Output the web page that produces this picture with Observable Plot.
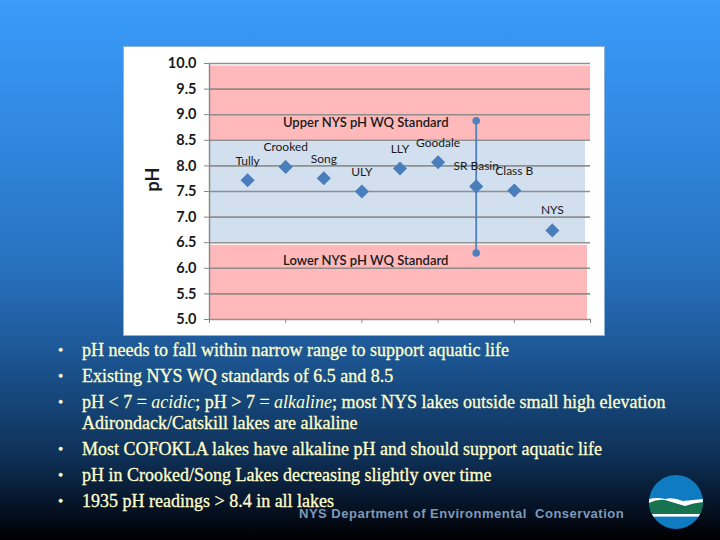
<!DOCTYPE html>
<html><head><meta charset="utf-8">
<script src="https://cdn.jsdelivr.net/npm/d3@7"></script>
<script src="https://cdn.jsdelivr.net/npm/@observablehq/plot@0.6"></script>
<style>
html,body{margin:0;padding:0;width:720px;height:540px;overflow:hidden}
body{position:relative;background:linear-gradient(180deg,#3a9bfa 0%,#3188e0 25%,#2870bd 50%,#1f5b9c 63%,#174a80 72%,#0e2f55 85%,#050f1f 95%,#000 100%)}
#panel{position:absolute;left:124px;top:47px;width:480px;height:288px;background:#fff;box-shadow:0 0 0 1px #8db4d8}
#panel svg{display:block;background:transparent}
.b{position:absolute;left:0;font:400 18px "Liberation Serif",serif;color:#ffffcc;white-space:pre;line-height:20px;-webkit-text-stroke:.3px #ffffcc}
.b span.d{position:absolute;left:58px;font-size:15px}
.b span.t{position:absolute;left:82px}
.b i{-webkit-text-stroke:0}
#foot{position:absolute;left:299px;top:506px;font:bold 13px "Liberation Sans",sans-serif;letter-spacing:.5px;color:#7f99ba;white-space:pre}
#logo{position:absolute;left:649px;top:475px}
</style></head><body>
<div id="panel"></div>
<div id="text"></div>
<div id="foot">NYS Department of Environmental  Conservation</div>
<svg id="logo" width="54" height="54" viewBox="0 0 54 54"><defs><clipPath id="c"><circle cx="27" cy="27" r="27"/></clipPath></defs>
<g clip-path="url(#c)"><rect width="54" height="54" fill="#0f7cc2"/>
<path d="M0 26 Q8 24 16 25 Q26 28 36 31 Q44 28 54 27 L54 39 L0 39Z" fill="#17734f"/>
<path d="M0 28 L0 24 Q8 22 16 24 Q24 22 34 26 Q44 25 54 24 L54 27 Q44 28 36 31 Q26 28 16 25 Q8 24 0 28Z" fill="#fff"/>
<rect y="39" width="54" height="2.6" fill="#fff"/></g></svg>
<script>
const lakes   = ["Tully","Crooked","Song","ULY","LLY","Goodale","SR Basin","Class B","NYS"];
const order   = [1,2,3,4,5,6,7,8,9];
const pH      = [7.72,7.98,7.76,7.5,7.95,8.07,7.6,7.52,6.74];
const labelPH = [8.1,8.36,8.14,7.87,8.32,8.45,8.0,7.9,7.13];
const srUpper = 8.88, srLower = 6.3, srOrder = 7;
const upperStd = 8.5, lowerStd = 6.5, pinkTop = 9.95, pinkBottom = 6.45;
const yTicks  = [5,5.5,6,6.5,7,7.5,8,8.5,9,9.5,10];
const xTicks  = [0,2,4,6,8,10];
const lineLabels = ["Upper NYS pH WQ Standard","Lower NYS pH WQ Standard"];
const lineLabelY = [8.85,6.15];
const rows = lakes.map((name,i)=>({name,x:order[i],y:pH[i],ly:labelPH[i]}));

const font = 'Lato, "Open Sans", sans-serif';
const plot = Plot.plot({
  width:480,height:288,marginLeft:85,marginRight:14,marginTop:16,marginBottom:16,
  style:{background:"transparent",fontFamily:font,overflow:"visible"},
  x:{domain:[0,10],axis:null},
  y:{domain:[5,10],axis:null},
  marks:[
    Plot.rectY([{a:upperStd,b:pinkTop}],{x1:0,x2:10,y1:"a",y2:"b",fill:"#ffb9bb"}),
    Plot.rectY([{a:lowerStd,b:upperStd}],{x1:0,x2:9.87,y1:"a",y2:"b",fill:"#d2dfef"}),
    Plot.rectY([{a:5,b:pinkBottom}],{x1:0,x2:9.92,y1:"a",y2:"b",fill:"#ffb9bb"}),
    Plot.ruleY(yTicks,{stroke:"#868686",strokeWidth:1.6,strokeOpacity:.9}),
    Plot.ruleX([0],{stroke:"#868686",strokeWidth:1.4}),
    Plot.axisY({ticks:yTicks,tickFormat:d3.format(".1f"),tickSize:5,tickPadding:8,stroke:"#868686",fill:"#1a1a1a",fontSize:14.5,fontWeight:"bold",label:null,color:"#1a1a1a"}),
    Plot.axisX({ticks:xTicks,tickSize:4,tickFormat:()=>"",stroke:"#868686",label:null}),
    Plot.ruleX([srOrder],{y1:srLower,y2:srUpper,stroke:"#4f81bd",strokeWidth:1.8}),
    Plot.dot([srUpper,srLower],{x:()=>srOrder,y:d=>d,r:3.8,fill:"#4f81bd"}),
    Plot.dot(rows,{x:"x",y:"y",symbol:"diamond2",r:5.4,fill:"#4a7ebb",stroke:"#4a7ebb"}),
    Plot.text(rows,{x:"x",y:"ly",text:"name",fontSize:12,fill:"#1a1a1a"}),
    Plot.text(lineLabels,{x:()=>4.1,y:(d,i)=>lineLabelY[i],text:d=>d,fontSize:13,fontWeight:600,fill:"#1a1a1a"}),
    Plot.text(["pH"],{frameAnchor:"left",rotate:-90,dx:-56,fontSize:18,fontWeight:"bold",fill:"#1a1a1a"})
  ]
});
document.getElementById("panel").append(plot);

const bullets = [
 {y:340,html:"pH needs to fall within narrow range to support aquatic life"},
 {y:366,html:"Existing NYS WQ standards of 6.5 and 8.5"},
 {y:392,html:"pH &lt; 7 = <i>acidic</i>; pH &gt; 7 = <i>alkaline</i>; most NYS lakes outside small high elevation"},
 {y:413,html:"Adirondack/Catskill lakes are alkaline",nodot:true},
 {y:439,html:"Most COFOKLA lakes have alkaline pH and should support aquatic life"},
 {y:465,html:"pH in Crooked/Song Lakes decreasing slightly over time"},
 {y:491,html:"1935 pH readings &gt; 8.4 in all lakes"}
];
const tx=document.getElementById("text");
for(const b of bullets){
  const d=document.createElement("div");d.className="b";d.style.top=b.y+"px";
  d.innerHTML=(b.nodot?"":'<span class="d">•</span>')+'<span class="t">'+b.html+'</span>';
  tx.append(d);
}
</script>
</body></html>
